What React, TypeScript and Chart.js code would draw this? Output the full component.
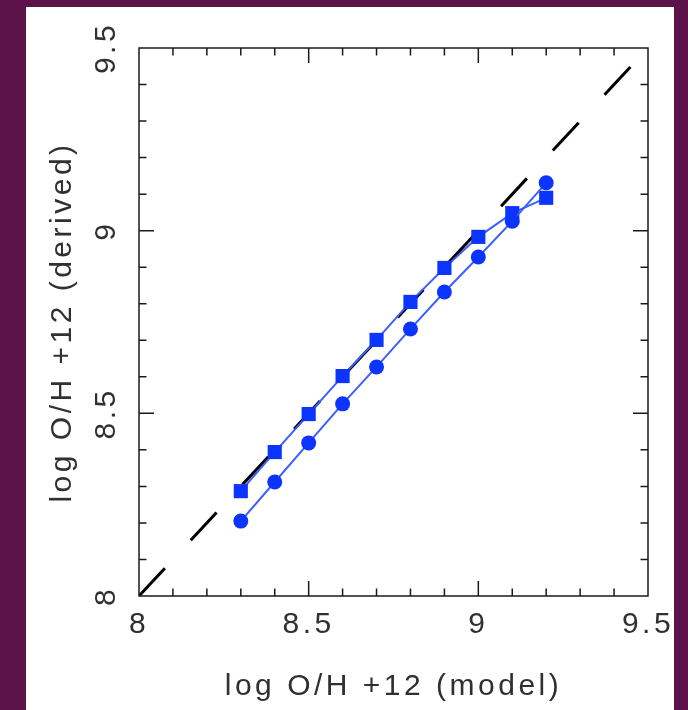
import React, { useEffect, useRef } from "react";
import { Chart, registerables } from "chart.js";

Chart.register(...registerables);

// ---- data ----
const MODEL_X = [8.3, 8.4, 8.5, 8.6, 8.7, 8.8, 8.9, 9.0, 9.1, 9.2];
const DERIVED_SQUARES = [8.287, 8.394, 8.498, 8.602, 8.701, 8.805, 8.898, 8.983, 9.048, 9.09];
const DERIVED_CIRCLES = [8.205, 8.312, 8.419, 8.526, 8.627, 8.731, 8.832, 8.928, 9.026, 9.131];
const IDENTITY_X = [8.0, 9.45];
const AXIS_MIN = 8;
const AXIS_MAX = 9.5;
const MAJOR_TICKS = [8, 8.5, 9, 9.5];
const TICK_LABELS = ["8", "8.5", "9", "9.5"];
const MINOR_STEP = 0.1;
const X_TITLE = "log O/H +12 (model)";
const Y_TITLE = "log O/H +12 (derived)";

const FONT = { family: "'Liberation Sans', Arial, sans-serif", size: 30, weight: "normal" as const };
const LETTER_SPACING = "3.5px";
const TEXT_COLOR = "#303030";

const bgPlugin = {
  id: "bgPanel",
  beforeUpdate(chart: any) {
    chart.ctx.letterSpacing = LETTER_SPACING;
  },
  beforeDraw(chart: any) {
    const ctx = chart.ctx;
    ctx.letterSpacing = LETTER_SPACING;
    ctx.save();
    ctx.fillStyle = "rgb(91,19,73)";
    ctx.fillRect(0, 0, chart.width, chart.height);
    ctx.fillStyle = "#ffffff";
    ctx.fillRect(26, 7, 648, chart.height - 7);
    ctx.restore();
  },
};

const framePlugin = {
  id: "frameTicks",
  afterDatasetsDraw(chart: any) {
    const { ctx, chartArea } = chart;
    const { left, right, top, bottom } = chartArea;
    const xs = chart.scales.x;
    const ys = chart.scales.y;
    ctx.save();
    ctx.strokeStyle = "#1a1a1a";
    ctx.lineWidth = 1.5;
    ctx.strokeRect(left, top, right - left, bottom - top);
    const n = Math.round((AXIS_MAX - AXIS_MIN) / MINOR_STEP);
    ctx.beginPath();
    for (let i = 1; i < n; i++) {
      const v = AXIS_MIN + i * MINOR_STEP;
      const major = MAJOR_TICKS.some((m) => Math.abs(m - v) < 1e-6);
      const len = major ? 15 : 7.5;
      const px = xs.getPixelForValue(v);
      ctx.moveTo(px, bottom);
      ctx.lineTo(px, bottom - len);
      ctx.moveTo(px, top);
      ctx.lineTo(px, top + len);
      const py = ys.getPixelForValue(v);
      ctx.moveTo(left, py);
      ctx.lineTo(left + len, py);
      ctx.moveTo(right, py);
      ctx.lineTo(right - len, py);
    }
    ctx.stroke();
    ctx.restore();
  },
};

export default function App() {
  const ref = useRef<HTMLCanvasElement>(null);

  useEffect(() => {
    if (!ref.current) return;
    const blue = "rgb(12,52,255)";
    const lineBlue = "rgb(60,95,255)";
    const chart = new Chart(ref.current, {
      type: "scatter",
      data: {
        datasets: [
          {
            label: "identity",
            data: IDENTITY_X.map((v) => ({ x: v, y: v })),
            showLine: true,
            borderColor: "#000000",
            borderWidth: 3,
            borderDash: [38, 38],
            pointRadius: 0,
            order: 3,
          },
          {
            label: "squares",
            data: MODEL_X.map((x, i) => ({ x, y: DERIVED_SQUARES[i] })),
            showLine: true,
            borderColor: lineBlue,
            borderWidth: 2,
            pointStyle: "rect",
            pointRadius: 10,
            pointBackgroundColor: blue,
            pointBorderColor: blue,
            pointBorderWidth: 0,
            order: 2,
          },
          {
            label: "circles",
            data: MODEL_X.map((x, i) => ({ x, y: DERIVED_CIRCLES[i] })),
            showLine: true,
            borderColor: lineBlue,
            borderWidth: 2,
            pointStyle: "circle",
            pointRadius: 7.5,
            pointBackgroundColor: blue,
            pointBorderColor: blue,
            pointBorderWidth: 0,
            order: 1,
          },
        ],
      },
      options: {
        animation: false,
        responsive: false,
        devicePixelRatio: 1,
        layout: { padding: { top: 48, right: 40, left: 0, bottom: 0 } },
        plugins: { legend: { display: false }, tooltip: { enabled: false } },
        scales: {
          x: {
            type: "linear",
            min: AXIS_MIN,
            max: AXIS_MAX,
            afterBuildTicks: (s: any) => {
              s.ticks = MAJOR_TICKS.map((v) => ({ value: v }));
            },
            afterFit: (s: any) => {
              s.height = 114;
            },
            grid: { display: false, drawTicks: false, tickLength: 0 },
            border: { display: false },
            ticks: {
              autoSkip: false,
              maxRotation: 0,
              minRotation: 0,
              padding: 11,
              color: TEXT_COLOR,
              font: FONT,
              callback: (v: any) => TICK_LABELS[MAJOR_TICKS.indexOf(Number(v))] ?? "",
            },
            title: {
              display: true,
              text: X_TITLE,
              color: TEXT_COLOR,
              font: FONT,
              padding: { top: 0, bottom: 5 },
            },
          },
          y: {
            type: "linear",
            min: AXIS_MIN,
            max: AXIS_MAX,
            afterBuildTicks: (s: any) => {
              s.ticks = MAJOR_TICKS.map((v) => ({ value: v }));
            },
            afterFit: (s: any) => {
              s.width = 139;
            },
            grid: { display: false, drawTicks: false, tickLength: 0 },
            border: { display: false },
            ticks: {
              autoSkip: false,
              minRotation: 90,
              maxRotation: 90,
              crossAlign: "center",
              padding: 6,
              color: TEXT_COLOR,
              font: FONT,
              callback: (v: any) => TICK_LABELS[MAJOR_TICKS.indexOf(Number(v))] ?? "",
            },
            title: {
              display: true,
              text: Y_TITLE,
              color: TEXT_COLOR,
              font: FONT,
              padding: { top: 45, bottom: 0 },
            },
          },
        },
      },
      plugins: [bgPlugin, framePlugin],
    });
    return () => chart.destroy();
  }, []);

  return (
    <div style={{ position: "fixed", left: 0, top: 0, width: 688, height: 710 }}>
      <canvas ref={ref} width={688} height={710} style={{ display: "block" }} />
    </div>
  );
}
